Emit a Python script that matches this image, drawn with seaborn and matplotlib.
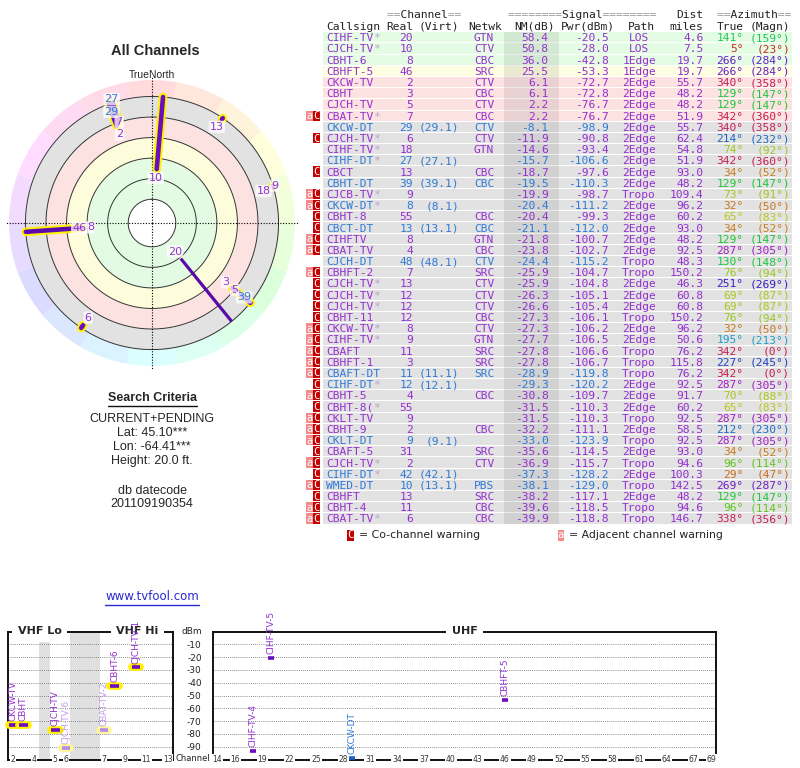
import colorsys
import numpy as np
import matplotlib
matplotlib.use("Agg")
import matplotlib.pyplot as plt
import matplotlib.patheffects as pe
from matplotlib.patches import Rectangle
import seaborn as sns

# ---- station table ----
callsigns = ["CIHF-TV*", "CJCH-TV*", "CBHT-6", "CBHFT-5", "CKCW-TV", "CBHT", "CJCH-TV", "CBAT-TV*",
             "CKCW-DT", "CJCH-TV*", "CIHF-TV*", "CIHF-DT*", "CBCT", "CBHT-DT", "CJCB-TV*", "CKCW-DT*",
             "CBHT-8", "CBCT-DT", "CIHFTV", "CBAT-TV", "CJCH-DT", "CBHFT-2", "CJCH-TV*", "CJCH-TV*",
             "CJCH-TV*", "CBHT-11", "CKCW-TV*", "CIHF-TV*", "CBAFT", "CBHFT-1", "CBAFT-DT", "CIHF-DT*",
             "CBHT-5", "CBHT-8(*", "CKLT-TV", "CBHT-9", "CKLT-DT", "CBAFT-5", "CJCH-TV*", "CIHF-DT*",
             "WMED-DT", "CBHFT", "CBHT-4", "CBAT-TV*"]
real_ch = [20, 10, 8, 46, 2, 3, 5, 7, 29, 6, 18, 27, 13, 39, 9, 8, 55, 13, 8, 4, 48, 7, 13, 12,
           12, 12, 8, 9, 11, 3, 11, 12, 4, 55, 9, 2, 9, 31, 2, 42, 10, 13, 11, 6]
virt_ch = ["", "", "", "", "", "", "", "", "29.1", "", "", "27.1", "", "39.1", "", "8.1",
           "", "13.1", "", "", "48.1", "", "", "", "", "", "", "", "", "", "11.1", "12.1",
           "", "", "", "", "9.1", "", "", "42.1", "13.1", "", "", ""]
networks = ["GTN", "CTV", "CBC", "SRC", "CTV", "CBC", "CTV", "CBC", "CTV", "CTV", "GTN", "", "CBC", "CBC",
            "", "", "CBC", "CBC", "GTN", "CBC", "CTV", "SRC", "CTV", "CTV", "CTV", "CBC", "CTV", "GTN",
            "SRC", "SRC", "SRC", "", "CBC", "", "", "CBC", "", "SRC", "CTV", "", "PBS", "SRC", "CBC", "CBC"]
nm_db = [58.4, 50.8, 36.0, 25.5, 6.1, 6.1, 2.2, 2.2, -8.1, -11.9, -14.6, -15.7, -18.7, -19.5, -19.9,
         -20.4, -20.4, -21.1, -21.8, -23.8, -24.4, -25.9, -25.9, -26.3, -26.6, -27.3, -27.3, -27.7,
         -27.8, -27.8, -28.9, -29.3, -30.8, -31.5, -31.5, -32.2, -33.0, -35.6, -36.9, -37.3, -38.1,
         -38.2, -39.6, -39.9]
pwr_dbm = [-20.5, -28.0, -42.8, -53.3, -72.7, -72.8, -76.7, -76.7, -98.9, -90.8, -93.4, -106.6, -97.6,
           -110.3, -98.7, -111.2, -99.3, -112.0, -100.7, -102.7, -115.2, -104.7, -104.8, -105.1,
           -105.4, -106.1, -106.2, -106.5, -106.6, -106.7, -119.8, -120.2, -109.7, -110.3, -110.3,
           -111.1, -123.9, -114.5, -115.7, -128.2, -129.0, -117.1, -118.5, -118.8]
paths = ["LOS", "LOS", "1Edge", "1Edge", "2Edge", "2Edge", "2Edge", "2Edge", "2Edge", "2Edge", "2Edge",
         "2Edge", "2Edge", "2Edge", "Tropo", "2Edge", "2Edge", "2Edge", "2Edge", "2Edge", "Tropo",
         "Tropo", "2Edge", "2Edge", "2Edge", "Tropo", "2Edge", "2Edge", "Tropo", "Tropo", "Tropo",
         "2Edge", "2Edge", "2Edge", "Tropo", "2Edge", "Tropo", "2Edge", "Tropo", "2Edge", "Tropo",
         "2Edge", "Tropo", "Tropo"]
dist_mi = [4.6, 7.5, 19.7, 19.7, 55.7, 48.2, 48.2, 51.9, 55.7, 62.4, 54.8, 51.9, 93.0, 48.2, 109.4,
           96.2, 60.2, 93.0, 48.2, 92.5, 48.3, 150.2, 46.3, 60.8, 60.8, 150.2, 96.2, 50.6, 76.2,
           115.8, 76.2, 92.5, 91.7, 60.2, 92.5, 58.5, 92.5, 93.0, 94.6, 100.3, 142.5, 48.2, 94.6, 146.7]
az_true = [141, 5, 266, 266, 340, 129, 129, 342, 340, 214, 74, 342, 34, 129, 73, 32, 65, 34, 129, 287,
           130, 76, 251, 69, 69, 76, 32, 195, 342, 227, 342, 287, 70, 65, 287, 212, 287, 34, 96, 29,
           269, 129, 96, 338]
az_magn = [159, 23, 284, 284, 358, 147, 147, 360, 358, 232, 92, 360, 52, 147, 91, 50, 83, 52, 147, 305,
           148, 94, 269, 87, 87, 94, 50, 213, 0, 245, 0, 305, 88, 83, 305, 230, 305, 52, 114, 47,
           287, 147, 114, 356]
warn = ["", "", "", "", "", "", "", "aC", "", "C", "", "", "C", "", "aC", "aC", "C", "C", "aC", "aC",
        "", "aC", "C", "C", "C", "C", "aC", "aC", "aC", "aC", "aC", "C", "aC", "C", "aC", "aC", "aC",
        "C", "aC", "C", "aC", "C", "aC", "aC"]
# full names used on the spectrum chart for the first stations
spectrum_names = ["CIHF-TV-5", "CJCH-TV-1", "CBHT-6", "CBHFT-5", "CKCW-TV", "CBHT", "CJCH-TV",
                  "CBAT-TV-2", "CKCW-DT", "CJCH-TV-6", "CIHF-TV-4"]

vhf_ticks = [2, 4, 5, 6, 7, 9, 11, 13]
uhf_ticks = [14, 16, 19, 22, 25, 28, 31, 34, 37, 40, 43, 46, 49, 52, 55, 58, 61, 64, 67, 69]
dbm_ticks = [-10, -20, -30, -40, -50, -60, -70, -80, -90]
search_lines = ["CURRENT+PENDING", "Lat: 45.10***", "Lon: -64.41***", "Height: 20.0 ft."]
datecode = "201109190354"

PURPLE = "#9430d0"
BLUE = "#2f7ad6"
LIGHT = "#c49cec"
BAR = "#6a0cc0"
MONO = "DejaVu Sans Mono"
SANS = "Liberation Sans"

sns.set_style("white")
plt.rcParams["font.family"] = ["DejaVu Sans"]

fig = plt.figure(figsize=(8, 7.68), dpi=100)
bg = fig.add_axes([0, 0, 1, 1])
bg.set_xlim(0, 800)
bg.set_ylim(768, 0)
bg.axis("off")

digital = [v != "" for v in virt_ch]


def az_color(a, s=0.85, v=0.78):
    return colorsys.hsv_to_rgb((a % 360) / 360.0, s, v)


def underline(t, gap, color):
    fig.canvas.draw()
    bb = t.get_window_extent().transformed(bg.transData.inverted())
    y = max(bb.y0, bb.y1) + gap
    bg.plot([bb.x0, bb.x1], [y, y], color=color, lw=1)


# ---- table ----
ROW0, ROW_H, FS = 37.3, 11.19, 8.1
CW = 0.602 * FS * 100 / 72  # mono char width in px
n = len(callsigns)
for w, x, word in [(2, 387, "Channel"), (8, 508, "Signal"), (2, 717, "Azimuth")]:
    bg.text(x, 18, "=" * w + " " * len(word) + "=" * w, family=MONO, fontsize=FS, color="#999", va="baseline")
    bg.text(x, 18, " " * w + word + " " * w, family=MONO, fontsize=FS, color="#222", va="baseline")
bg.text(703.5, 18, "Dist", family=MONO, fontsize=FS, color="#222", ha="right", va="baseline")
for x, s, ha in [(326, "Callsign", "left"), (413, "Real", "right"), (459, "(Virt)", "right"),
                 (468, "Netwk", "left"), (555, "NM(dB)", "right"), (615, "Pwr(dBm)", "right"),
                 (655, "Path", "right"), (703.5, "miles", "right"), (743.5, "True", "right"),
                 (790, "(Magn)", "right")]:
    bg.text(x, 29.5, s, family=MONO, fontsize=FS, color="#222", ha=ha, va="baseline")

for i in range(n):
    y = ROW0 + i * ROW_H
    nm = nm_db[i]
    if nm >= 30:
        fc = "#e4fbe4"
    elif nm >= 15:
        fc = "#fdfde2"
    elif nm >= 0:
        fc = "#fde2e2"
    else:
        fc = "#e2e2e2"
    bg.add_patch(Rectangle((323, y - ROW_H / 2 + 0.5), 469, ROW_H - 1, color=fc, lw=0))
    if "C" in warn[i]:
        bg.add_patch(Rectangle((313, y - ROW_H / 2 + 0.5), 7, ROW_H - 1, color="#c40000", lw=0))
        bg.text(316.5, y + 3.5, "C", family=MONO, fontsize=7.5, color="white", ha="center", va="baseline")
    if "a" in warn[i]:
        bg.add_patch(Rectangle((306, y - ROW_H / 2 + 0.5), 7, ROW_H - 1, color="#f48a8a", lw=0))
        bg.text(309.5, y + 3.5, "a", family=MONO, fontsize=7.5, color="white", ha="center", va="baseline")
    c = BLUE if digital[i] else PURPLE
    azc = az_color(az_true[i])
    yb = y + 4
    kw = dict(family=MONO, fontsize=FS, va="baseline")
    name = callsigns[i]
    base = name.rstrip("*")
    bg.text(326, yb, base, color=c, ha="left", **kw)
    if name.endswith("*"):
        bg.text(326 + len(base) * CW, yb, "*", color="#b9a6cc", ha="left", **kw)
    bg.text(413, yb, str(real_ch[i]), color=c, ha="right", **kw)
    if virt_ch[i]:
        bg.text(459, yb, "(" + virt_ch[i] + ")", color=c, ha="right", **kw)
    bg.text(484, yb, networks[i], color=c, ha="center", **kw)
    bg.text(548.5, yb, f"{nm:.1f}", color=c, ha="right", **kw)
    bg.text(608.5, yb, f"{pwr_dbm[i]:.1f}", color=c, ha="right", **kw)
    bg.text(639, yb, paths[i], color=PURPLE, ha="center", **kw)
    bg.text(703.5, yb, f"{dist_mi[i]:.1f}", color=PURPLE, ha="right", **kw)
    bg.text(743.5, yb, f"{az_true[i]}°", color=azc, ha="right", **kw)
    bg.text(790, yb, f"({az_magn[i]}°)", color=azc, ha="right", **kw)
# shaded NM column
bg.add_patch(Rectangle((504, ROW0 - ROW_H / 2), 54.5, n * ROW_H, color="black", alpha=0.075, lw=0))

# warning legend
bg.add_patch(Rectangle((347, 529.5), 6.5, 11, color="#c40000", lw=0))
bg.text(350.2, 538.5, "C", family=MONO, fontsize=7.5, color="white", ha="center", va="baseline")
bg.text(359, 535, "= Co-channel warning", fontsize=7.8, color="#222", va="center")
bg.add_patch(Rectangle((557.5, 529.5), 6.5, 11, color="#f48a8a", lw=0))
bg.text(560.7, 538.5, "a", family=MONO, fontsize=7.5, color="white", ha="center", va="baseline")
bg.text(569, 535, "= Adjacent channel warning", fontsize=7.8, color="#222", va="center")

# ---- left texts ----
bg.text(155, 51, "All Channels", family=SANS, fontsize=10.5, weight="bold", ha="center", va="center")
bg.text(152, 75, "TrueNorth", family=SANS, fontsize=7.5, ha="center", va="center")
t = bg.text(152, 398, "Search Criteria", family=SANS, fontsize=9, weight="bold", ha="center", va="center")
underline(t, 1.5, "#111")
for k, s in enumerate(search_lines):
    bg.text(152, 419 + k * 14, s, family=SANS, fontsize=9, ha="center", va="center")
bg.text(152, 491, "db datecode", family=SANS, fontsize=9, ha="center", va="center")
bg.text(152, 504, datecode, family=SANS, fontsize=9, ha="center", va="center")
t = bg.text(152, 597, "www.tvfool.com", fontsize=8.5, color="#2a2ad0", ha="center", va="center")
underline(t, 1.0, "#2a2ad0")

# ---- polar direction chart ----
axp = fig.add_axes([0.005, 0.5169, 0.37, 0.3854], projection="polar")
axp.set_theta_zero_location("N")
axp.set_theta_direction(-1)
axp.set_ylim(0, 148)
axp.axis("off")


def ring_r(v):
    return 106 - 1.37 * v


R_OUT = ring_r(-15)
th = np.linspace(0, 2 * np.pi, 361)
wedge = np.arange(0, 360, 20)
axp.bar(np.deg2rad(wedge), 143 - R_OUT, width=np.deg2rad(20), bottom=R_OUT,
        color=[colorsys.hsv_to_rgb(a / 360.0, 0.14, 1.0) for a in wedge], edgecolor="none")
for lo, hi, col in [(ring_r(60), ring_r(30), "#e3fbe3"), (ring_r(30), ring_r(15), "#fdfddc"),
                    (ring_r(15), ring_r(0), "#fde2e2"), (ring_r(0), ring_r(-15), "#e2e2e2")]:
    axp.fill_between(th, lo, hi, color=col, lw=0)
for lv in [60, 45, 30, 15, 0, -15]:
    axp.plot(th, np.full_like(th, ring_r(lv)), color="#333", lw=0.7)
for a in [0, 90, 180, 270]:
    axp.plot([np.deg2rad(a)] * 2, [0, 146], color="black", lw=0.8, ls=(0, (1, 1.5)))
decl = az_true[0] - az_magn[0]
axp.plot([np.deg2rad(decl)] * 2, [R_OUT - 3, R_OUT + 7], color="red", lw=1)

shown = [i for i in range(n) if nm_db[i] > -20]
r0s = {i: min(110 - 1.1 * nm_db[i], R_OUT - 1.5) for i in shown}
for i in shown:
    if real_ch[i] <= 13:
        a = np.deg2rad(az_true[i])
        axp.plot([a, a], [r0s[i], R_OUT], color="#fff200", lw=6.2, solid_capstyle="round")
for i in shown:
    a = np.deg2rad(az_true[i])
    if real_ch[i] <= 13:
        axp.plot([a, a], [r0s[i], R_OUT], color=BAR, lw=3.3, solid_capstyle="round")
    else:
        axp.plot([a, a], [r0s[i], R_OUT], color="#5a0aa8", lw=2.3, solid_capstyle="butt")
placed = []
for i in shown:
    r = r0s[i] - 9
    for pa, pr in placed:
        if abs(((az_true[i] - pa + 180) % 360) - 180) < 4 and abs(r - pr) < 11:
            r = pr + 12
    placed.append((az_true[i], r))
    axp.text(np.deg2rad(az_true[i]), r, str(real_ch[i]), fontsize=8,
             color=BLUE if digital[i] else PURPLE, ha="center", va="center",
             bbox=dict(boxstyle="round,pad=0.1", fc="white", ec="none", alpha=0.75))

# ---- spectrum chart ----
axb = 1 - 759.5 / 768
axh = 128 / 768
axv = fig.add_axes([7.5 / 800, axb, 165.5 / 800, axh])
axu = fig.add_axes([212.8 / 800, axb, 503.2 / 800, axh])


def vhf_x(ch):
    # channel centre in MHz, with the band gaps squeezed
    if ch <= 4:
        return 57 + 6 * (ch - 2)
    if ch <= 6:
        return 81 + 6 * (ch - 5)
    return 177 + 6 * (ch - 7) - 68.5


axv.set_xlim(54, 147.5)
axu.set_xlim(13.5, 69.5)
axv.axvspan(72, 78, color="#e0e0e0", lw=0, zorder=0.2)
axv.axvspan(89.5, 106, color="#e0e0e0", lw=0, zorder=0.2)
for ax in (axv, axu):
    ax.set_ylim(-100, 0)
    ax.set_yticks(dbm_ticks)
    ax.set_xticks([])
    ax.set_axisbelow(True)
    ax.grid(axis="y", color="#666", ls=(0, (1, 1.5)), lw=0.6)
    ax.tick_params(length=0)
    for sp in ax.spines.values():
        sp.set_color("#111")
        sp.set_linewidth(1.4)
axv.set_yticklabels([])
axu.set_yticklabels([str(v) for v in dbm_ticks], fontsize=6.5, color="#222")
axu.tick_params(axis="y", pad=8)

tick_box = dict(fc="white", ec="none", pad=0.6)
for c in vhf_ticks:
    axv.text(vhf_x(c), -100, str(c), fontsize=5.5, color="#333", ha="center", va="center",
             bbox=tick_box, zorder=5, clip_on=False)
for c in uhf_ticks:
    axu.text(c, -100, str(c), fontsize=5.5, color="#333", ha="center", va="center",
             bbox=tick_box, zorder=5, clip_on=False)
title_box = dict(fc="white", ec="none", pad=4)
for ax, xf, s in [(axv, 0.193, "VHF Lo"), (axv, 0.785, "VHF Hi"), (axu, 0.5, "UHF")]:
    ax.text(xf, 1.0, s, transform=ax.transAxes, fontsize=8, weight="bold", ha="center", va="center",
            bbox=title_box, zorder=5, clip_on=False)

for i, name in enumerate(spectrum_names):
    ch, p = real_ch[i], pwr_dbm[i]
    if digital[i]:
        core, halo, lab = "#1f63c9", None, BLUE
    elif warn[i]:
        core, halo, lab = "#b48ce6", "#fff59a", LIGHT
    else:
        core, halo, lab = BAR, "#fff000", PURPLE
    if ch <= 13:
        ax, x, w = axv, vhf_x(ch), 2.4
    else:
        ax, x, w, halo = axu, ch, 0.36, None
    effects = [pe.Stroke(linewidth=5.6, foreground=halo, capstyle="round"), pe.Normal()] if halo else None
    ax.plot([x - w, x + w], [p, p], color=core, lw=2.6, solid_capstyle="butt",
            path_effects=effects, zorder=4, clip_on=False)
    ax.text(x, p + 3, name, rotation=90, fontsize=6.5, color=lab, ha="center", va="bottom",
            zorder=6, clip_on=False)

bg.text(191.5, 632, "dBm", fontsize=6.5, color="#222", ha="center", va="center")
bg.text(192.5, 758.5, "Channel", fontsize=6, color="#222", ha="center", va="center")

fig.savefig("out.png", dpi=100)
